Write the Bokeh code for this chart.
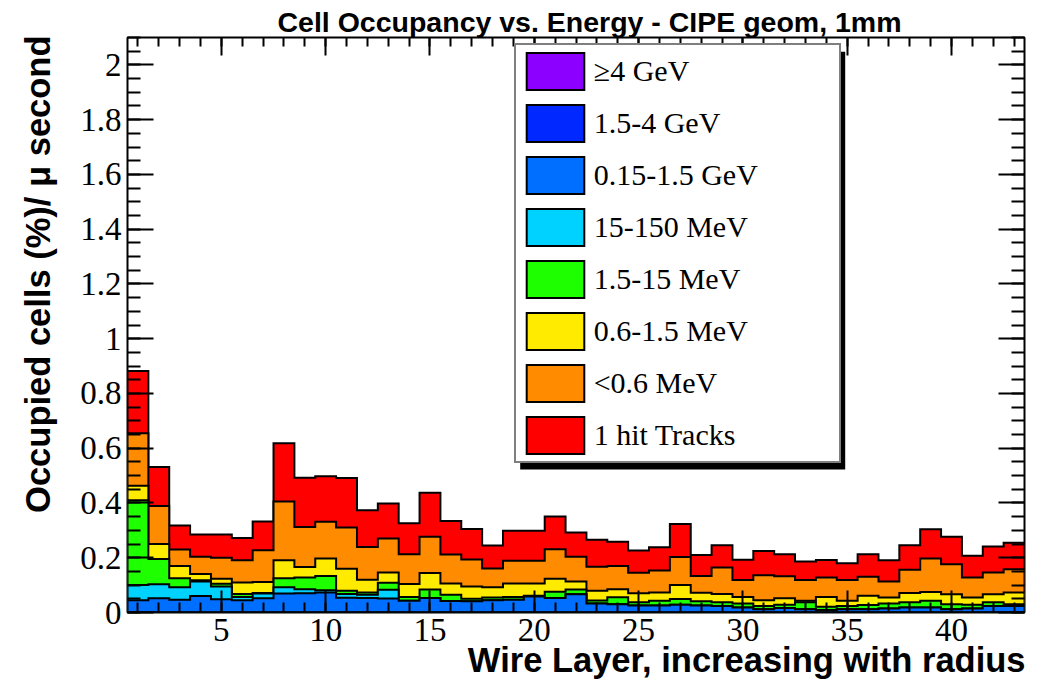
import numpy as np
from bokeh.plotting import figure
from bokeh.models import (Range1d, FixedTicker, LinearAxis, Legend, LegendItem,
                          Title, BoxAnnotation)
from bokeh.embed import file_html
from bokeh.resources import INLINE

# ---- data: occupancy per wire layer, split by deposited-energy class ----
layers = list(range(1, 44))

occ_ge4gev = [0, 0, 0, 0, 0, 0, 0, 0, 0, 0,
              0, 0, 0, 0, 0, 0, 0, 0, 0, 0,
              0, 0, 0, 0, 0, 0, 0, 0, 0, 0,
              0, 0, 0, 0, 0, 0, 0, 0, 0, 0,
              0, 0, 0]
occ_15_4gev = [0, 0, 0, 0, 0, 0, 0, 0, 0, 0,
               0, 0, 0, 0, 0, 0, 0, 0, 0, 0,
               0, 0, 0, 0, 0, 0, 0, 0, 0, 0,
               0, 0, 0, 0, 0, 0, 0, 0, 0, 0,
               0, 0, 0]
occ_015_15gev = [0.045, 0.052, 0.047, 0.060, 0.048, 0.045, 0.052, 0.069, 0.070, 0.073,
                 0.054, 0.053, 0.051, 0.043, 0.053, 0.042, 0.041, 0.045, 0.047, 0.058,
                 0.053, 0.067, 0.033, 0.030, 0.026, 0.026, 0.028, 0.026, 0.024, 0.018,
                 0.012, 0.016, 0.012, 0.009, 0.012, 0.012, 0.015, 0.018, 0.018, 0.012,
                 0.015, 0.024, 0.024]
occ_15_150mev = [0.055, 0.051, 0.045, 0.053, 0.047, 0.012, 0.017, 0.023, 0.015, 0.008,
                 0.014, 0.012, 0.032, 0, 0, 0, 0, 0, 0, 0,
                 0, 0, 0, 0, 0, 0, 0, 0, 0, 0,
                 0, 0, 0, 0, 0, 0, 0, 0, 0, 0,
                 0, 0, 0]
occ_15_15mev = [0.310, 0.092, 0.033, 0.005, 0.010, 0.011, 0.002, 0.033, 0.043, 0.052,
                0.011, 0.008, 0.026, 0.014, 0.031, 0.023, 0.009, 0.010, 0.010, 0.003,
                0.023, 0.017, 0.011, 0.026, 0.011, 0.017, 0.021, 0.015, 0.013, 0.015,
                0.012, 0.012, 0.025, 0.012, 0.012, 0.015, 0.018, 0.019, 0.025, 0.018,
                0.013, 0.013, 0.006]
occ_06_15mev = [0.053, 0.055, 0.045, 0.023, 0.018, 0.042, 0.040, 0.066, 0.038, 0.064,
                0.081, 0.047, 0.037, 0.047, 0.060, 0.041, 0.045, 0.037, 0.049, 0.045,
                0.047, 0.029, 0.035, 0.029, 0.033, 0.030, 0.051, 0.031, 0.031, 0.024,
                0.021, 0.024, 0.006, 0.036, 0.019, 0.034, 0.022, 0.034, 0.032, 0.037,
                0.027, 0.030, 0.043]
occ_lt06mev = [0.192, 0.139, 0.060, 0.063, 0.077, 0.081, 0.116, 0.214, 0.146, 0.134,
               0.150, 0.119, 0.124, 0.109, 0.133, 0.106, 0.099, 0.069, 0.083, 0.083,
               0.108, 0.091, 0.088, 0.085, 0.075, 0.080, 0.103, 0.061, 0.096, 0.062,
               0.091, 0.080, 0.076, 0.071, 0.076, 0.070, 0.058, 0.085, 0.122, 0.109,
               0.073, 0.079, 0.085]
occ_1hit = [0.227, 0.142, 0.088, 0.081, 0.085, 0.081, 0.105, 0.213, 0.180, 0.167,
            0.181, 0.134, 0.128, 0.113, 0.160, 0.122, 0.111, 0.084, 0.110, 0.110,
            0.120, 0.088, 0.099, 0.088, 0.081, 0.085, 0.120, 0.077, 0.082, 0.074,
            0.089, 0.081, 0.067, 0.064, 0.061, 0.082, 0.078, 0.090, 0.107, 0.101,
            0.079, 0.095, 0.097]

# stacked from the bottom up
series = [occ_ge4gev, occ_15_4gev, occ_015_15gev, occ_15_150mev,
          occ_15_15mev, occ_06_15mev, occ_lt06mev, occ_1hit]
series_labels = ["\u22654 GeV", "1.5-4 GeV", "0.15-1.5 GeV", "15-150 MeV",
                 "1.5-15 MeV", "0.6-1.5 MeV", "<0.6 MeV", "1 hit Tracks"]
series_colors = ["#8c00ff", "#0028ff", "#006eff", "#00d2ff",
                 "#1eff00", "#ffeb00", "#ff8c00", "#ff0000"]

x_major = [5, 10, 15, 20, 25, 30, 35, 40]
y_major = [0, 0.2, 0.4, 0.6, 0.8, 1.0, 1.2, 1.4, 1.6, 1.8, 2.0]
y_labels = ["0", "0.2", "0.4", "0.6", "0.8", "1", "1.2", "1.4", "1.6", "1.8", "2"]

plot_title = "Cell Occupancy vs. Energy - CIPE geom, 1mm"
x_title = "Wire Layer, increasing with radius"
y_title = "Occupied cells (%)/ \u03bc second"

# ---- figure ----
p = figure(width=1037, height=688, output_backend="svg", toolbar_location=None,
           x_range=Range1d(0.5, 43.5), y_range=Range1d(0, 2.1),
           min_border_left=126, min_border_right=13,
           min_border_top=37, min_border_bottom=76)
p.grid.visible = False
p.background_fill_color = "white"
p.border_fill_color = "white"
p.outline_line_color = "black"
p.outline_line_width = 2

# ---- stacked step histograms (drawn top layer first) ----
layer_arr = np.array(layers, dtype=float)
edges = np.append(layer_arr - 0.5, layer_arr[-1] + 0.5)
cumulative = np.cumsum(np.array(series, dtype=float), axis=0)


def step_polygon(tops):
    xs = [edges[0]]
    ys = [0.0]
    for i, t in enumerate(tops):
        xs += [edges[i], edges[i + 1]]
        ys += [t, t]
    xs.append(edges[-1])
    ys.append(0.0)
    return xs, ys


renderers = [None] * len(series)
for k in reversed(range(len(series))):
    xs, ys = step_polygon(cumulative[k])
    renderers[k] = p.patch(xs, ys, fill_color=series_colors[k], fill_alpha=1.0,
                           line_color="black", line_width=2, line_join="miter")

# ---- axes: ticks on all four sides, pointing inward ----
y_minor = [round(0.05 * k, 2) for k in range(43)]


def style_axis(ax, major_len, minor_len, show_labels):
    ax.major_tick_in = major_len
    ax.major_tick_out = 0
    ax.minor_tick_in = minor_len
    ax.minor_tick_out = 0
    ax.major_tick_line_color = "black"
    ax.minor_tick_line_color = "black"
    ax.major_tick_line_width = 2
    ax.minor_tick_line_width = 2
    ax.axis_line_color = None
    if show_labels:
        ax.major_label_text_font = "Liberation Serif"
        ax.major_label_text_font_size = "33px"
        ax.major_label_text_color = "black"
    else:
        ax.major_label_text_font_size = "1px"
        ax.major_label_text_color = None
        ax.major_label_standoff = 0


xb = p.xaxis[0]
xb.ticker = FixedTicker(ticks=x_major, minor_ticks=layers)
style_axis(xb, 22, 10, True)
xb.major_label_standoff = 6

yl = p.yaxis[0]
yl.ticker = FixedTicker(ticks=y_major, minor_ticks=y_minor)
style_axis(yl, 26, 13, True)
yl.major_label_standoff = 6
yl.major_label_overrides = {v: s for v, s in zip(y_major, y_labels)}

xt = LinearAxis(ticker=FixedTicker(ticks=x_major, minor_ticks=layers))
style_axis(xt, 18, 9, False)
p.add_layout(xt, "above")

yr = LinearAxis(ticker=FixedTicker(ticks=y_major, minor_ticks=y_minor))
style_axis(yr, 26, 13, False)
p.add_layout(yr, "right")

# ---- titles ----
title_font = dict(text_font="Liberation Sans", text_font_style="bold",
                  text_color="black")
p.title = Title(text=plot_title, align="left", offset=150, standoff=0,
                vertical_align="bottom", text_font_size="28.5px", **title_font)
p.add_layout(Title(text=y_title, align="right", offset=-2, standoff=37,
                   vertical_align="top", text_font_size="34.5px", **title_font),
             "left")
p.add_layout(Title(text=x_title, align="right", offset=-1, standoff=-6,
                   vertical_align="top", text_font_size="34.5px", **title_font),
             "below")

# ---- legend with drop shadow ----
shadow = BoxAnnotation(left=392.7, right=717.7, top=560.7, bottom=143,
                       left_units="screen", right_units="screen",
                       top_units="screen", bottom_units="screen",
                       fill_color="black", fill_alpha=1.0, line_color=None)
p.add_layout(shadow)

legend = Legend(
    items=[LegendItem(label=lab, renderers=[r])
           for lab, r in zip(series_labels, renderers)],
    location=(386.7, 149),
    glyph_width=72, glyph_height=46,
    label_width=242, label_height=46,
    padding=3, spacing=6, label_standoff=3, margin=0,
    label_text_font="Liberation Serif", label_text_font_size="30px",
    label_text_color="black",
    border_line_color="black", border_line_width=2,
    background_fill_color="white", background_fill_alpha=1.0,
)
p.add_layout(legend)

open("out.html", "w").write(file_html(p, INLINE))
